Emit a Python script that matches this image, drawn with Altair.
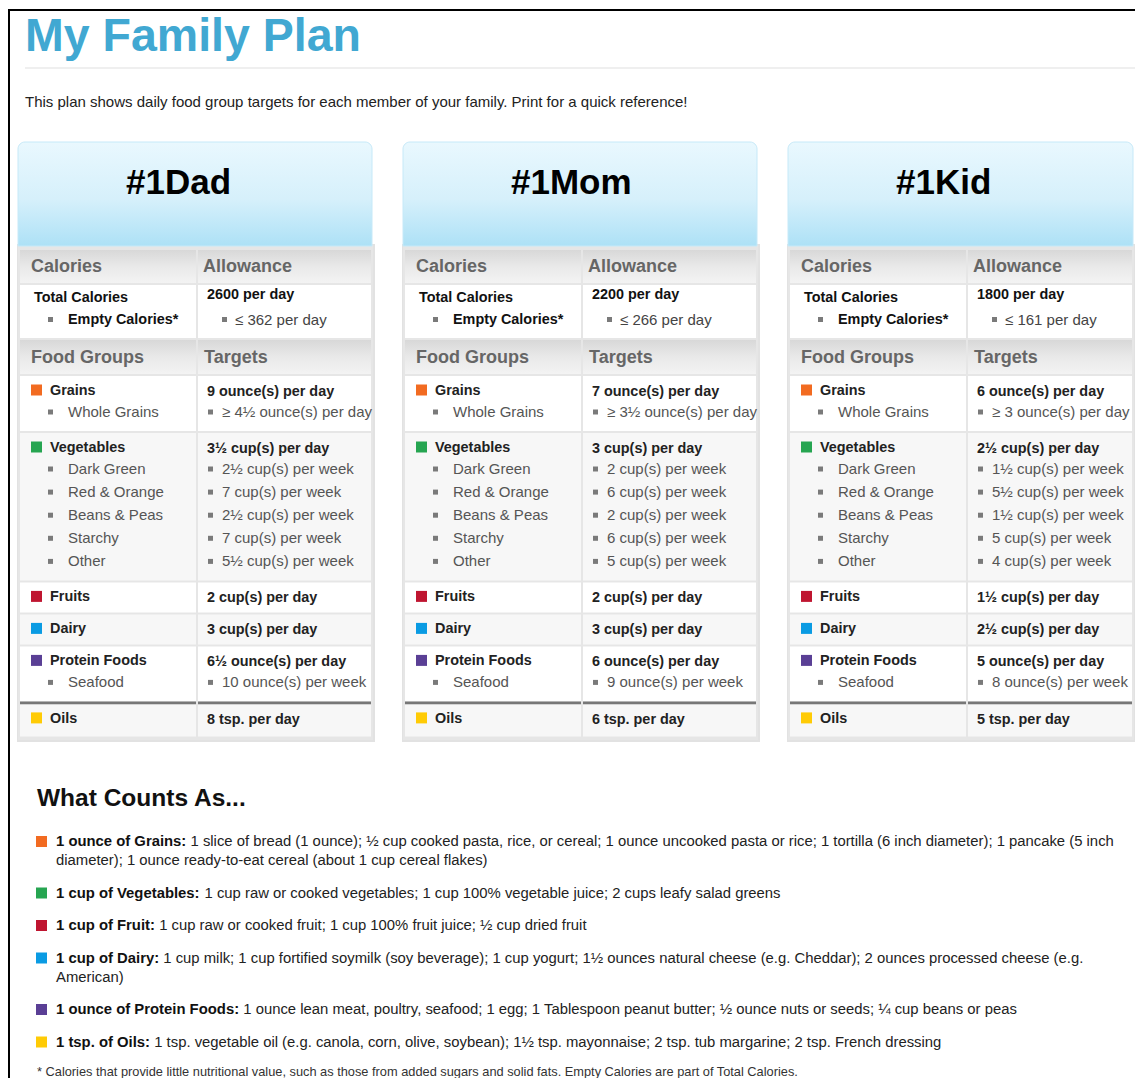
import altair as alt
import pandas as pd

# ------------------------------------------------------------------ data
title = "My Family Plan"
subtitle = ("This plan shows daily food group targets for each member of your family. "
            "Print for a quick reference!")
people = ["#1Dad", "#1Mom", "#1Kid"]
cal_headers = ["Calories", "Allowance"]
group_headers = ["Food Groups", "Targets"]
cal_labels = ["Total Calories", "Empty Calories*"]
total_calories = ["2600 per day", "2200 per day", "1800 per day"]
empty_calories = ["≤ 362 per day", "≤ 266 per day", "≤ 161 per day"]

food_groups = ["Grains", "Vegetables", "Fruits", "Dairy", "Protein Foods", "Oils"]
group_colors = ["#F26B21", "#26A551", "#BF1530", "#0A9BE3", "#5A3F95", "#FFCB05"]
subgroups = [["Whole Grains"],
             ["Dark Green", "Red & Orange", "Beans & Peas", "Starchy", "Other"],
             [], [], ["Seafood"], []]

dad_targets = ["9 ounce(s) per day", "3½ cup(s) per day", "2 cup(s) per day",
               "3 cup(s) per day", "6½ ounce(s) per day", "8 tsp. per day"]
dad_sub = ["≥ 4½ ounce(s) per day", "2½ cup(s) per week", "7 cup(s) per week",
           "2½ cup(s) per week", "7 cup(s) per week", "5½ cup(s) per week",
           "10 ounce(s) per week"]
mom_targets = ["7 ounce(s) per day", "3 cup(s) per day", "2 cup(s) per day",
               "3 cup(s) per day", "6 ounce(s) per day", "6 tsp. per day"]
mom_sub = ["≥ 3½ ounce(s) per day", "2 cup(s) per week", "6 cup(s) per week",
           "2 cup(s) per week", "6 cup(s) per week", "5 cup(s) per week",
           "9 ounce(s) per week"]
kid_targets = ["6 ounce(s) per day", "2½ cup(s) per day", "1½ cup(s) per day",
               "2½ cup(s) per day", "5 ounce(s) per day", "5 tsp. per day"]
kid_sub = ["≥ 3 ounce(s) per day", "1½ cup(s) per week", "5½ cup(s) per week",
           "1½ cup(s) per week", "5 cup(s) per week", "4 cup(s) per week",
           "8 ounce(s) per week"]
targets = [dad_targets, mom_targets, kid_targets]
sub_targets = [dad_sub, mom_sub, kid_sub]

counts_heading = "What Counts As..."
counts_bold = ["1 ounce of Grains:", "1 cup of Vegetables:", "1 cup of Fruit:",
               "1 cup of Dairy:", "1 ounce of Protein Foods:", "1 tsp. of Oils:"]
counts_text = [
    ["1 slice of bread (1 ounce); ½ cup cooked pasta, rice, or cereal; 1 ounce uncooked pasta or rice; 1 tortilla (6 inch diameter); 1 pancake (5 inch",
     "diameter); 1 ounce ready-to-eat cereal (about 1 cup cereal flakes)"],
    ["1 cup raw or cooked vegetables; 1 cup 100% vegetable juice; 2 cups leafy salad greens"],
    ["1 cup raw or cooked fruit; 1 cup 100% fruit juice; ½ cup dried fruit"],
    ["1 cup milk; 1 cup fortified soymilk (soy beverage); 1 cup yogurt; 1½ ounces natural cheese (e.g. Cheddar); 2 ounces processed cheese (e.g.",
     "American)"],
    ["1 ounce lean meat, poultry, seafood; 1 egg; 1 Tablespoon peanut butter; ½ ounce nuts or seeds; ¼ cup beans or peas"],
    ["1 tsp. vegetable oil (e.g. canola, corn, olive, soybean); 1½ tsp. mayonnaise; 2 tsp. tub margarine; 2 tsp. French dressing"],
]
footnote = ("* Calories that provide little nutritional value, such as those from added "
            "sugars and solid fats. Empty Calories are part of Total Calories.")

# ------------------------------------------------------------------ layout
W, H = 1127, 1070           # drawing area
X0, Y0 = 8, 8               # page position of the drawing area
FONT = "Liberation Sans"
BOLD_W = {'1': 556, ' ': 278, 'o': 611, 'u': 611, 'n': 611, 'c': 556, 'e': 556,
          'f': 333, 'G': 778, 'r': 389, 'a': 556, 'i': 278, 's': 556, ':': 333,
          'p': 611, 'V': 667, 'g': 611, 't': 333, 'b': 611, 'l': 278, 'F': 611,
          'D': 722, 'y': 556, 'P': 667, 'd': 611, '.': 278, 'O': 778}


def bold_width(s, fs):
    return sum(BOLD_W.get(c, 556) for c in s) * fs / 1000.0


rects, blue, bands, bold_t, reg_t, symbols = [], [], [], [], [], []


def rect(x, x2, y, y2, fill):
    rects.append(dict(x=x, x2=x2, y=y, y2=y2, fill=fill))


def txt(lst, x, y, text, size, color):
    lst.append(dict(x=x, y=y, text=text, size=size, color=color))


# page frame, title, subtitle
rect(X0, X0 + W, 9, 11, "#000000")
rect(X0, X0 + 2, 9, Y0 + H, "#000000")
txt(bold_t, 25, 37, title, 46.5, "#41A8D2")
rect(25, X0 + W, 67, 69, "#efefef")
txt(reg_t, 25, 102, subtitle, 15, "#222222")

BF, RF = 14.4, 15          # bold / regular table font sizes
panel_w = [354, 354, 345]
for k, person in enumerate(people):
    x0 = 18 + 385 * k
    pw = panel_w[k]
    L0, L1, R0, R1 = x0 + 2, x0 + 178, x0 + 180, x0 + pw - 1
    rect(x0 - 1, x0 + pw + 3, 244, 742, "#e2e2e2")
    rect(x0, x0 + pw + 1, 245, 740, "#e6e6e6")
    blue.append(dict(x=x0, x2=x0 + pw, y=142, y2=246))
    txt(bold_t, x0 + 108, 183, person, 35, "#000000")

    # Calories header + block
    bands += [dict(x=L0, x2=L1, y=250, y2=283), dict(x=R0, x2=R1, y=250, y2=283)]
    txt(bold_t, x0 + 13, 267, cal_headers[0], 18, "#666666")
    txt(bold_t, x0 + 185, 267, cal_headers[1], 18, "#666666")
    rect(L0, L1, 285, 338, "#ffffff")
    rect(R0, R1, 285, 338, "#ffffff")
    txt(bold_t, x0 + 16, 297.5, cal_labels[0], BF, "#111111")
    symbols.append(dict(x=x0 + 32.5, y=319.5, size=25, color="#7a7a7a"))
    txt(bold_t, x0 + 50, 319.5, cal_labels[1], BF, "#111111")
    txt(bold_t, x0 + 189, 295, total_calories[k], BF, "#111111")
    symbols.append(dict(x=x0 + 206.5, y=319.5, size=25, color="#7a7a7a"))
    txt(reg_t, x0 + 217, 320, empty_calories[k], RF, "#444444")

    # Food groups header
    bands += [dict(x=L0, x2=L1, y=340, y2=374), dict(x=R0, x2=R1, y=340, y2=374)]
    txt(bold_t, x0 + 13, 358, group_headers[0], 18, "#666666")
    txt(bold_t, x0 + 186, 358, group_headers[1], 18, "#666666")

    top = 376
    si = 0
    for gi, g in enumerate(food_groups):
        subs = subgroups[gi]
        if g == "Oils":
            top -= 2
            rect(L0, L1, top, top + 3, "#777777")
            rect(R0, R1, top, top + 3, "#777777")
            top += 3
            main_y = top + 14.5
            bottom = top + 32
        else:
            main_y = top + 15
            sub_ys = [main_y + 21 + 23.1 * i for i in range(len(subs))]
            bottom = (sub_ys[-1] + 19) if subs else top + 30
        bg = "#ffffff" if gi % 2 == 0 else "#f7f7f7"
        rect(L0, L1, top, bottom, bg)
        rect(R0, R1, top, bottom, bg)
        symbols.append(dict(x=x0 + 18.5, y=main_y - 1, size=121, color=group_colors[gi]))
        txt(bold_t, x0 + 32, main_y, g, BF, "#222222")
        txt(bold_t, x0 + 189, main_y + 1, targets[k][gi], BF, "#222222")
        if g != "Oils":
            for i, s in enumerate(subs):
                yy = sub_ys[i]
                symbols.append(dict(x=x0 + 32.5, y=yy, size=25, color="#7a7a7a"))
                txt(reg_t, x0 + 50, yy, s, RF, "#555555")
                symbols.append(dict(x=x0 + 192.5, y=yy, size=25, color="#7a7a7a"))
                txt(reg_t, x0 + 204, yy, sub_targets[k][si], RF, "#555555")
                si += 1
        top = bottom + 2

# What counts as
txt(bold_t, 37, 799, counts_heading, 24.5, "#111111")
CF = 14.85
y = 842
for gi, pre in enumerate(counts_bold):
    symbols.append(dict(x=41.5, y=y - 0.5, size=121, color=group_colors[gi]))
    txt(bold_t, 56, y, pre, CF, "#111111")
    txt(reg_t, 56 + bold_width(pre, CF) + 0.278 * CF, y, counts_text[gi][0], CF, "#222222")
    for j, line in enumerate(counts_text[gi][1:]):
        txt(reg_t, 56, y + 19 * (j + 1), line, CF, "#222222")
    y += 19 * (len(counts_text[gi]) - 1) + 32.5
txt(reg_t, 37, 1072, footnote, 12.8, "#333333")

# ------------------------------------------------------------------ chart
xs = alt.Scale(domain=[X0, X0 + W], nice=False, zero=False)
ys = alt.Scale(domain=[Y0, Y0 + H], nice=False, zero=False, reverse=True)
X = alt.X("x:Q", scale=xs, axis=None)
Y = alt.Y("y:Q", scale=ys, axis=None)

rect_layer = alt.Chart(pd.DataFrame(rects)).mark_rect().encode(
    x=X, x2="x2:Q", y=Y, y2="y2:Q", color=alt.Color("fill:N", scale=None))

blue_grad = alt.Gradient(
    gradient="linear", x1=0, x2=0, y1=0, y2=1,
    stops=[alt.GradientStop(color="#e9f8fe", offset=0),
           alt.GradientStop(color="#d6f0fb", offset=0.55),
           alt.GradientStop(color="#ade1f6", offset=1)])
blue_layer = alt.Chart(pd.DataFrame(blue)).mark_rect(
    color=blue_grad, stroke="#c6e9f8", strokeWidth=1,
    cornerRadiusTopLeft=7, cornerRadiusTopRight=7).encode(
    x=X, x2="x2:Q", y=Y, y2="y2:Q")

band_grad = alt.Gradient(
    gradient="linear", x1=0, x2=0, y1=0, y2=1,
    stops=[alt.GradientStop(color="#d8d8d8", offset=0),
           alt.GradientStop(color="#e9e9e9", offset=0.5),
           alt.GradientStop(color="#f3f3f3", offset=1)])
band_layer = alt.Chart(pd.DataFrame(bands)).mark_rect(color=band_grad).encode(
    x=X, x2="x2:Q", y=Y, y2="y2:Q")

sym_layer = alt.Chart(pd.DataFrame(symbols)).mark_square(filled=True, opacity=1).encode(
    x=X, y=Y, size=alt.Size("size:Q", scale=None),
    color=alt.Color("color:N", scale=None))

bold_layer = alt.Chart(pd.DataFrame(bold_t)).mark_text(
    align="left", baseline="middle", font=FONT, fontWeight="bold").encode(
    x=X, y=Y, text="text:N", size=alt.Size("size:Q", scale=None),
    color=alt.Color("color:N", scale=None))

reg_layer = alt.Chart(pd.DataFrame(reg_t)).mark_text(
    align="left", baseline="middle", font=FONT).encode(
    x=X, y=Y, text="text:N", size=alt.Size("size:Q", scale=None),
    color=alt.Color("color:N", scale=None))

chart = alt.layer(rect_layer, blue_layer, band_layer, sym_layer, bold_layer, reg_layer).properties(
    width=W, height=H, padding=0, background="#ffffff",
    autosize=alt.AutoSizeParams(type="none")
).configure_view(stroke=None)

chart.save("out.html", embed_options={"renderer": "svg", "actions": False})
